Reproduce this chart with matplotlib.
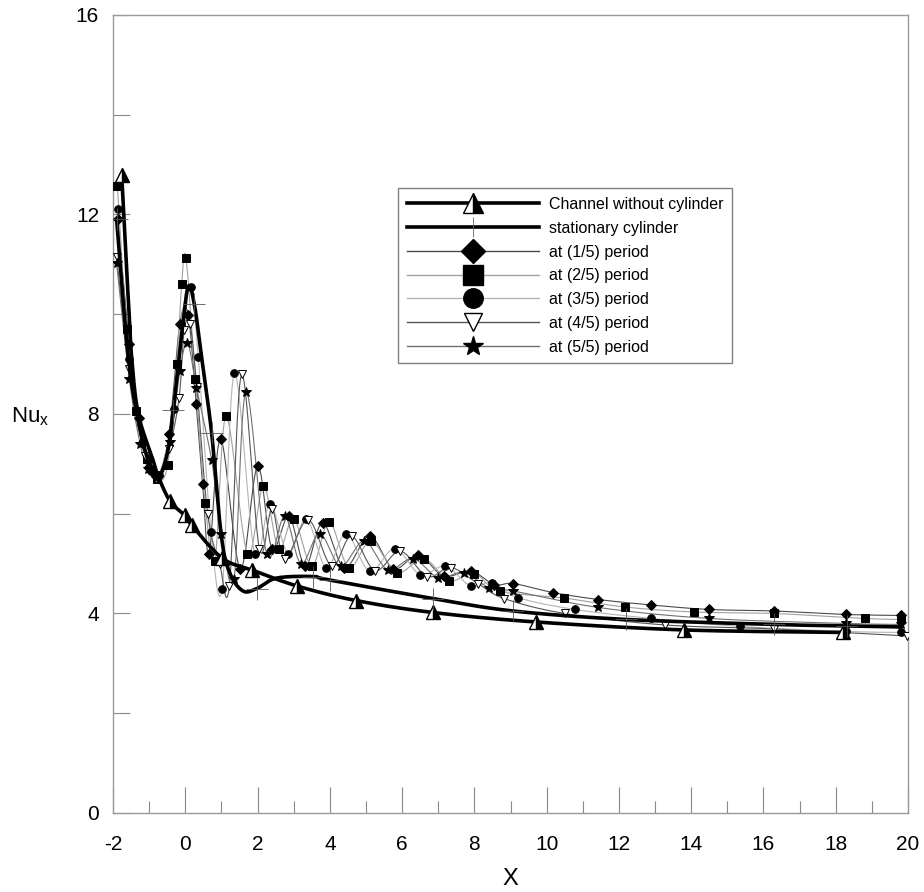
import numpy as np
import matplotlib
matplotlib.use("Agg")
import matplotlib.pyplot as plt
from matplotlib.ticker import MultipleLocator

plt.rcParams["font.family"] = ["Liberation Sans", "DejaVu Sans"]
plt.rcParams["axes.unicode_minus"] = False

# ---------- data ----------
# channel without cylinder (thick, half-filled triangles)
ch_x = [-1.76, -1.71, -1.64, -1.56, -1.48, -1.30, -0.89, -0.75, -0.42, -0.02, 0.18,
        1.02, 1.85, 3.10, 4.72, 6.85, 9.70, 13.80, 18.20]
ch_y = [12.80, 12.10, 11.10, 10.10, 9.10, 8.00, 7.07, 6.75, 6.25, 5.97, 5.77,
        5.11, 4.87, 4.55, 4.26, 4.02, 3.83, 3.67, 3.62]
ch_mk = [0, 8, 9, 10, 11, 12, 13, 14, 15, 16, 17, 18]

# stationary cylinder (thick, thin "+" markers)
st_x = [-1.90, -1.60, -1.34, -1.03, -0.75, -0.50, -0.33, -0.10, 0.08, 0.25, 0.45,
        0.73, 1.00, 1.24, 1.60, 1.98, 2.53, 3.54, 4.00, 6.85, 9.07, 12.20, 16.30, 18.30, 19.80]
st_y = [11.90, 9.30, 8.00, 7.07, 6.73, 7.20, 8.08, 9.60, 10.55, 10.20, 9.15,
        7.61, 5.54, 4.80, 4.45, 4.50, 4.71, 4.74, 4.67, 4.30, 4.05, 3.88, 3.78, 3.75, 3.73]
st_mk = [0, 6, 9, 11, 15, 17, 18, 19, 20, 21, 22, 23]

# at (1/5) period - diamonds
d1_x = [-1.87, -1.55, -1.28, -1.00, -0.75, -0.45, -0.15, 0.08, 0.30, 0.48,
        0.66, 0.98, 1.52, 2.00, 2.40, 2.87, 3.32, 3.80, 4.40, 5.10,
        5.76, 6.45, 7.15, 7.90, 8.55, 9.08, 10.18, 11.43, 12.90, 14.50,
        16.28, 18.28, 19.80]
d1_y = [11.90, 9.40, 7.91, 6.94, 6.75, 7.60, 9.81, 9.99, 8.21, 6.59,
        5.20, 7.50, 4.90, 6.95, 5.30, 5.95, 4.95, 5.82, 4.92, 5.55,
        4.90, 5.17, 4.75, 4.85, 4.58, 4.60, 4.42, 4.28, 4.17, 4.08,
        4.05, 3.98, 3.96]

# at (2/5) period - squares
d2_x = [-1.88, -1.62, -1.35, -1.05, -0.79, -0.49, -0.24, -0.10, 0.02, 0.28,
        0.55, 0.82, 1.13, 1.72, 2.16, 2.58, 3.00, 3.50, 3.98, 4.53,
        5.14, 5.85, 6.60, 7.30, 8.00, 8.70, 10.48, 12.16, 14.08, 16.28,
        18.80, 19.80]
d2_y = [12.58, 9.70, 8.05, 7.10, 6.69, 6.97, 9.01, 10.60, 11.12, 8.70,
        6.21, 5.05, 7.95, 5.20, 6.55, 5.30, 5.90, 4.95, 5.83, 4.92,
        5.45, 4.82, 5.10, 4.66, 4.80, 4.45, 4.31, 4.13, 4.03, 4.00,
        3.90, 3.88]

# at (3/5) period - circles
d3_x = [-1.87, -1.55, -1.21, -0.95, -0.72, -0.31, -0.13, 0.15, 0.36, 0.71,
        1.02, 1.36, 1.92, 2.34, 2.85, 3.35, 3.90, 4.45, 5.10, 5.80,
        6.50, 7.20, 7.90, 8.50, 9.20, 10.78, 12.90, 15.35, 18.28, 19.80]
d3_y = [12.10, 9.10, 7.41, 6.85, 6.78, 8.09, 9.80, 10.55, 9.15, 5.64,
        4.50, 8.82, 5.20, 6.20, 5.20, 5.90, 4.92, 5.60, 4.85, 5.30,
        4.78, 4.95, 4.55, 4.62, 4.32, 4.08, 3.90, 3.74, 3.64, 3.62]

# at (4/5) period - open down triangles
d4_x = [-1.90, -1.55, -1.12, -0.80, -0.45, -0.17, -0.03, 0.13, 0.32, 0.62,
        0.95, 1.22, 1.56, 2.05, 2.40, 2.75, 3.40, 4.05, 4.60, 5.25,
        5.95, 6.70, 7.35, 8.10, 8.82, 10.50, 13.27, 16.28, 19.96]
d4_y = [11.15, 8.90, 7.15, 6.70, 7.30, 8.33, 9.69, 9.81, 8.55, 6.00,
        5.00, 4.55, 8.80, 5.30, 6.10, 5.10, 5.88, 4.95, 5.55, 4.86,
        5.25, 4.74, 4.92, 4.60, 4.30, 4.00, 3.77, 3.69, 3.55]

# at (5/5) period - stars
d5_x = [-1.90, -1.55, -1.25, -1.03, -0.80, -0.42, -0.15, 0.06, 0.31, 0.73,
        1.00, 1.35, 1.68, 2.25, 2.75, 3.20, 3.72, 4.30, 4.95, 5.60,
        6.30, 7.00, 7.70, 8.40, 9.08, 11.43, 14.50, 18.28, 19.80]
d5_y = [11.02, 8.70, 7.40, 6.90, 6.72, 7.44, 8.86, 9.43, 8.53, 7.07,
        5.60, 4.70, 8.45, 5.20, 5.95, 5.00, 5.60, 4.95, 5.45, 4.88,
        5.10, 4.72, 4.82, 4.52, 4.45, 4.12, 3.90, 3.80, 3.78]

x_ticks = [-2, 0, 2, 4, 6, 8, 10, 12, 14, 16, 18, 20]
y_ticks = [0, 4, 8, 12, 16]

YS = 1.38  # y stretch so the smoothing works in screen-like units


def smooth(xs, ys, n=14):
    """Excel-like smoothed line (Catmull-Rom through the data points)."""
    p = np.column_stack([xs, np.asarray(ys) * YS])
    p = np.vstack([p[0], p, p[-1]])
    t = np.linspace(0, 1, n, endpoint=False)[:, None]
    segs = []
    for i in range(1, len(p) - 2):
        p0, p1, p2, p3 = p[i - 1], p[i], p[i + 1], p[i + 2]
        segs.append(0.5 * (2 * p1 + (-p0 + p2) * t
                           + (2 * p0 - 5 * p1 + 4 * p2 - p3) * t ** 2
                           + (-p0 + 3 * p1 - 3 * p2 + p3) * t ** 3))
    segs.append(p[-2][None])
    s = np.vstack(segs)
    return s[:, 0], s[:, 1] / YS


fig = plt.figure(figsize=(9.24, 8.92), dpi=100)
ax = fig.add_axes([0.1223, 0.0886, 0.8604, 0.8946])

# x, y, marker, face, line colour, plot size, legend size, label
thin = [
    (d1_x, d1_y, "D", "black", "#4a4a4a", 5.0, 12.5, "at (1/5) period"),
    (d2_x, d2_y, "s", "black", "#a0a0a0", 5.5, 14.0, "at (2/5) period"),
    (d3_x, d3_y, "o", "black", "#b4b4b4", 5.5, 14.0, "at (3/5) period"),
    (d4_x, d4_y, "v", "white", "#555555", 6.0, 13.0, "at (4/5) period"),
    (d5_x, d5_y, "*", "black", "#707070", 7.0, 15.0, "at (5/5) period"),
]
handles = []

# thick curves
sx, sy = smooth(ch_x, ch_y)
ax.plot(sx, sy, color="black", lw=2.6, zorder=5)
ax.plot(np.array(ch_x)[ch_mk], np.array(ch_y)[ch_mk], ls="none", marker="^",
        ms=9.5, mec="black", mew=1.0, mfc="black", mfcalt="white",
        fillstyle="right", zorder=6)
handles.append(plt.Line2D([], [], color="black", lw=2.6, marker="^", ms=14,
                          mec="black", mfc="black", mfcalt="white",
                          fillstyle="right"))

sx, sy = smooth(st_x, st_y)
ax.plot(sx, sy, color="black", lw=2.6, zorder=5)
ax.plot(np.array(st_x)[st_mk], np.array(st_y)[st_mk], ls="none", marker="+",
        ms=16, mew=0.6, color="#555555", zorder=6)
handles.append(plt.Line2D([], [], color="black", lw=2.6, marker="|", ms=14,
                          mew=0.6, mec="#666666"))

for xs, ys, mk, fc, lc, ms, lms, lab in thin:
    sx, sy = smooth(xs, ys)
    ax.plot(sx, sy, color=lc, lw=0.8, zorder=3)
    ax.plot(xs, ys, ls="none", marker=mk, ms=ms, mfc=fc, mec="black",
            mew=0.7, zorder=4)
    handles.append(plt.Line2D([], [], color=lc, lw=1.0, marker=mk,
                              ms=lms, mfc=fc, mec="black", mew=1.0))

labels = ["Channel without cylinder", "stationary cylinder"] + [t[-1] for t in thin]
leg = ax.legend(handles, labels, loc="upper left", bbox_to_anchor=(0.3585, 0.783),
                fontsize=11.5, handlelength=8.3, labelspacing=0.55, borderpad=0.55,
                handletextpad=0.6, fancybox=False, framealpha=1, borderaxespad=0)
leg.get_frame().set_edgecolor("#808080")
leg.get_frame().set_linewidth(1.0)

ax.set_xlim(-2, 20)
ax.set_ylim(0, 16)
ax.set_xticks(x_ticks)
ax.set_yticks(y_ticks)
ax.xaxis.set_minor_locator(MultipleLocator(1))
ax.yaxis.set_minor_locator(MultipleLocator(2))
ax.tick_params(axis="x", which="major", direction="in", length=19, width=0.8,
               color="#888888", labelsize=15, pad=16)
ax.tick_params(axis="x", which="minor", direction="in", length=9, width=0.8,
               color="#888888")
ax.tick_params(axis="y", which="major", direction="in", length=12, width=0.8,
               color="#888888", labelsize=15, pad=10)
ax.tick_params(axis="y", which="minor", direction="in", length=12, width=0.8,
               color="#888888")
for lab in ax.get_xticklabels():
    lab.set_family(["Liberation Sans Narrow", "Liberation Sans"])
for sp in ax.spines.values():
    sp.set_color("#999999")
    sp.set_linewidth(1.0)

ax.set_xlabel("X", fontsize=17, family=["Liberation Sans Narrow", "Liberation Sans"],
              va="center")
ax.xaxis.set_label_coords(0.5, -0.083)
ax.set_ylabel("Nu$_\\mathregular{x}$", fontsize=16, rotation=0, va="center")
ax.yaxis.set_label_coords(-0.104, 0.496)

fig.savefig("out.png", dpi=100)
